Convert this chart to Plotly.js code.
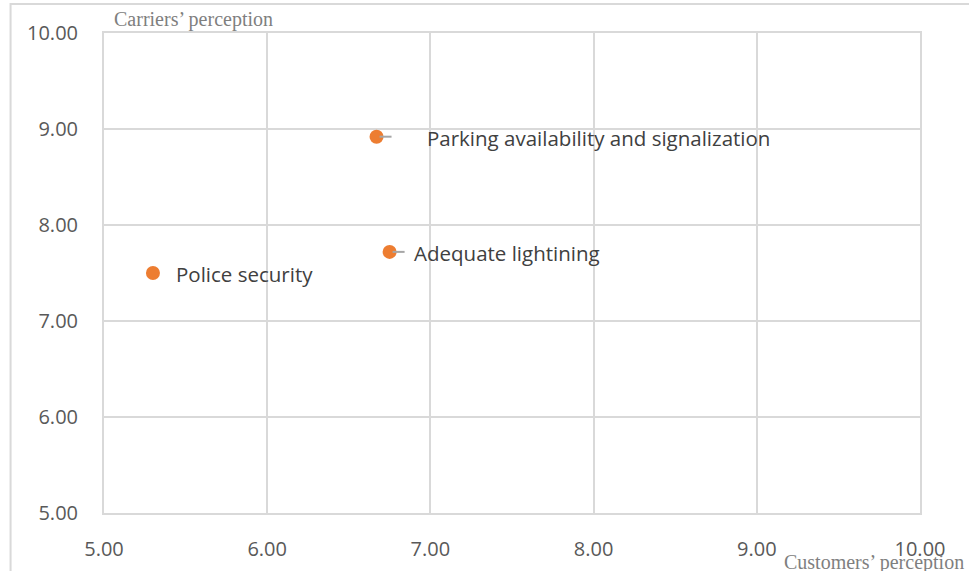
<!DOCTYPE html>
<html>
<head>
<meta charset="utf-8">
<script src="https://cdn.plot.ly/plotly-3.0.1.min.js"></script>
<style>
  html, body { margin: 0; padding: 0; background: #ffffff; }
  #chart { width: 969px; height: 571px; }
</style>
</head>
<body>
<div id="chart"></div>
<script>
// Perception of safety factors: customers (x) vs carriers (y)
const factors = ['Parking availability and signalization', 'Adequate lightining', 'Police security'];
const customersScore = [6.67, 6.75, 5.30];
const carriersScore = [8.92, 7.72, 7.50];
const tickValues = [5, 6, 7, 8, 9, 10];
const tickLabels = ['5.00', '6.00', '7.00', '8.00', '9.00', '10.00'];

// label offsets (px) from each marker and whether a leader line is drawn
const labelShift = [48, 22, 21];
const leaderLine = [true, true, false];

const orange = '#ED7D31';
const grid = '#D9D9D9';
const tickColor = '#595959';

const trace = {
  type: 'scatter',
  mode: 'markers',
  x: customersScore,
  y: carriersScore,
  marker: { color: orange, size: 14, line: { width: 0 } },
  hoverinfo: 'skip'
};

const annotations = factors.map((name, i) => ({
  x: customersScore[i],
  y: carriersScore[i],
  xref: 'x', yref: 'y',
  text: name,
  showarrow: false,
  xanchor: 'left',
  yanchor: 'middle',
  xshift: labelShift[i],
  yshift: -1,
  font: { family: 'Open Sans, sans-serif', size: 20.5, color: '#404040' }
}));

// axis titles placed at the corners in a serif face
annotations.push({
  xref: 'paper', yref: 'paper', x: 0.01, y: 1.0, yshift: 14,
  xanchor: 'left', yanchor: 'middle', showarrow: false,
  text: 'Carriers’ perception',
  font: { family: 'Liberation Serif, Times New Roman, serif', size: 20, color: '#7F7F7F' }
});
annotations.push({
  xref: 'paper', yref: 'paper', x: 1.0, y: 0, xshift: 46, yshift: -49,
  xanchor: 'right', yanchor: 'middle', showarrow: false,
  text: 'Customers’ perception',
  font: { family: 'Liberation Serif, Times New Roman, serif', size: 20, color: '#7F7F7F' }
});

const shapes = [];
factors.forEach((name, i) => {
  if (!leaderLine[i]) return;
  shapes.push({
    type: 'line',
    xref: 'x', yref: 'y',
    xsizemode: 'pixel', ysizemode: 'pixel',
    xanchor: customersScore[i], yanchor: carriersScore[i],
    x0: 3, x1: 15, y0: 0, y1: 0,
    line: { color: '#A6A6A6', width: 2 }
  });
});
// outer chart frame
shapes.push({
  type: 'rect', xref: 'paper', yref: 'paper',
  x0: -0.1145, x1: 1.07, y0: -0.14, y1: 1.0605,
  line: { color: '#D9D9D9', width: 2 }, fillcolor: 'rgba(0,0,0,0)', layer: 'below'
});

const axisCommon = {
  tickmode: 'array',
  tickvals: tickValues,
  ticktext: tickLabels,
  showgrid: true,
  gridcolor: grid,
  gridwidth: 2,
  zeroline: false,
  showline: true,
  linecolor: grid,
  linewidth: 2,
  mirror: true,
  ticks: '',
  tickfont: { family: 'Open Sans, sans-serif', size: 20, color: tickColor },
  fixedrange: true
};

const layout = {
  width: 969,
  height: 571,
  margin: { l: 104, r: 49, t: 33, b: 58 },
  paper_bgcolor: '#ffffff',
  plot_bgcolor: '#ffffff',
  showlegend: false,
  xaxis: Object.assign({}, axisCommon, { range: [5, 10], ticklabelstandoff: 17 }),
  yaxis: Object.assign({}, axisCommon, { range: [5, 10], ticklabelstandoff: 20 }),
  annotations: annotations,
  shapes: shapes
};

Plotly.newPlot('chart', [trace], layout, { displayModeBar: false, staticPlot: true });
</script>
</body>
</html>
